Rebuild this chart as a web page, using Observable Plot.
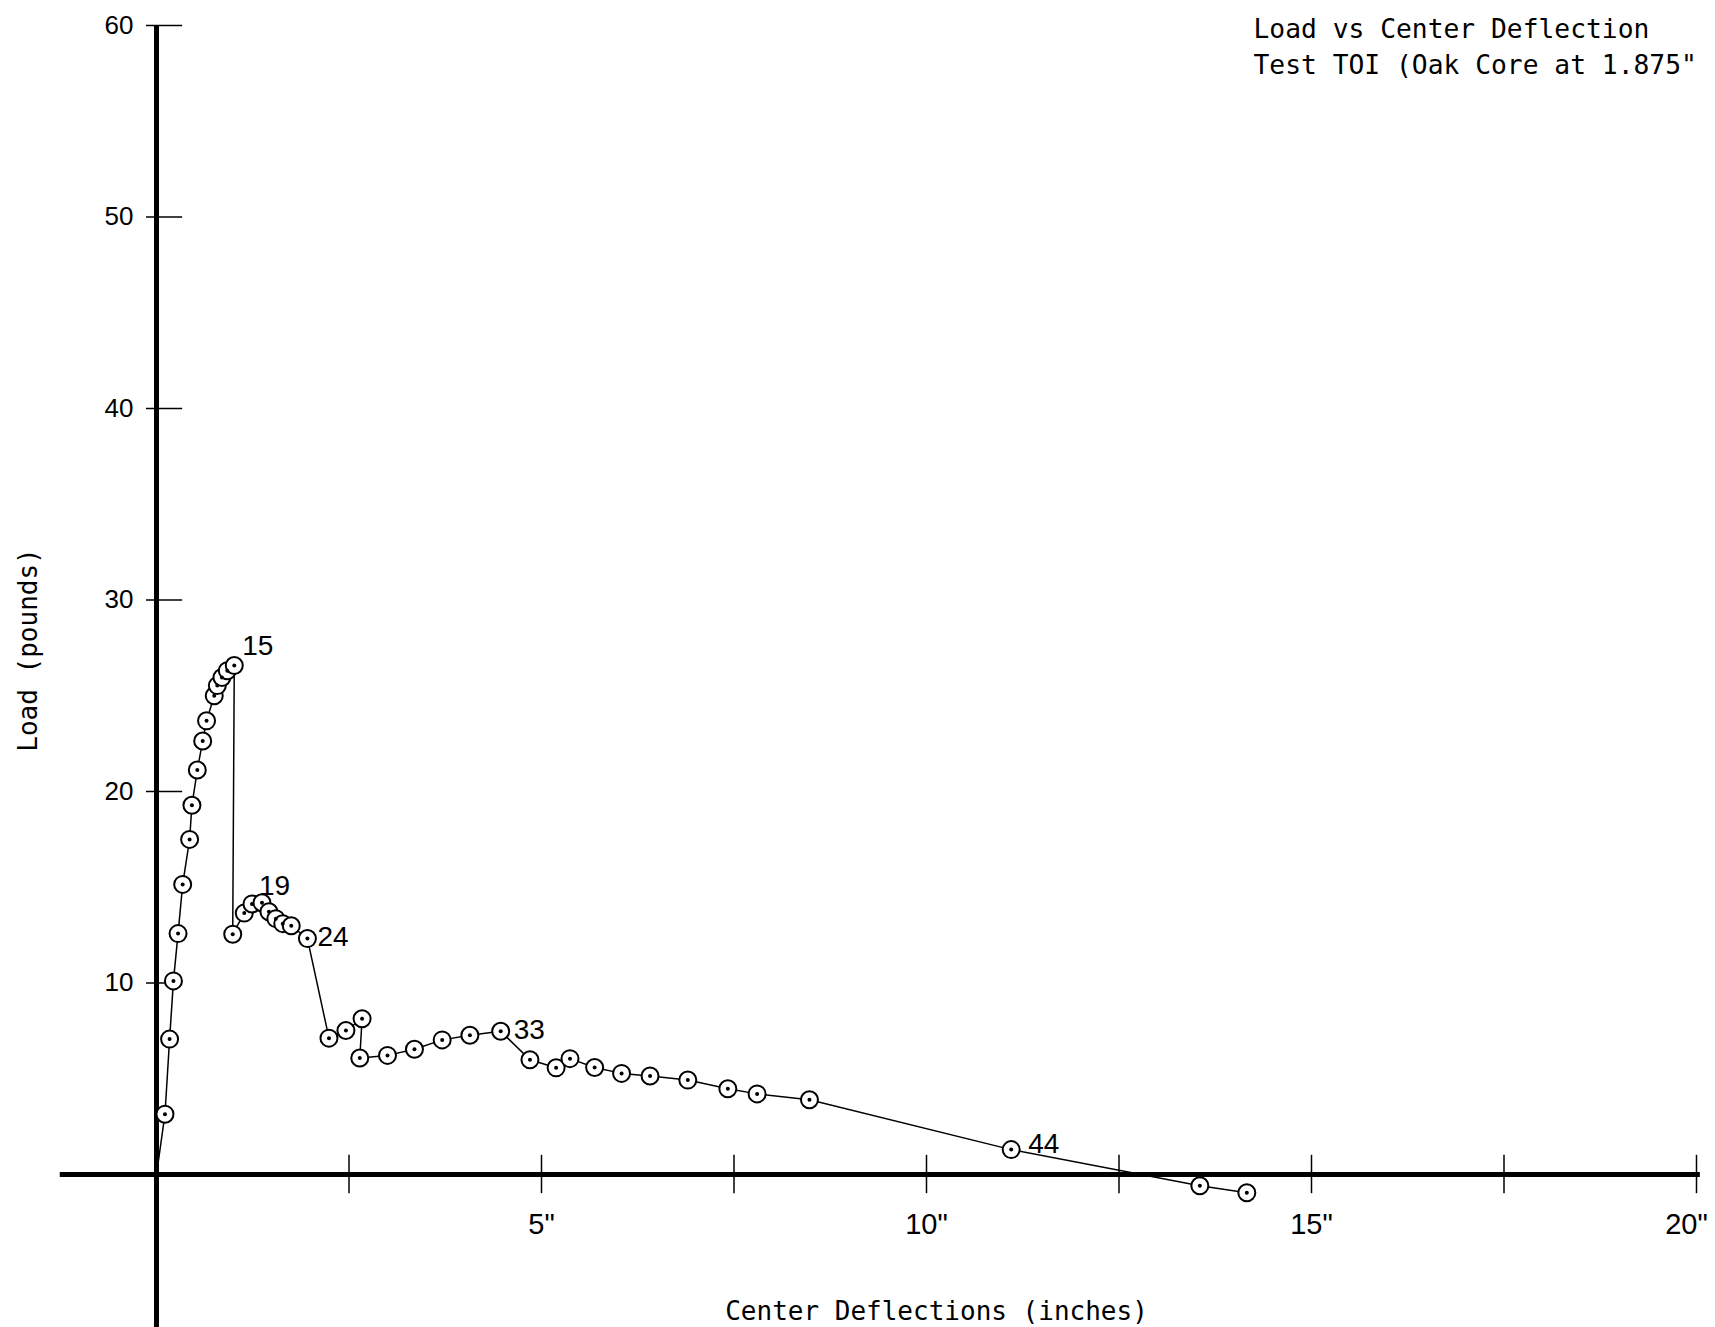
<!DOCTYPE html>
<html><head><meta charset="utf-8">
<script src="https://cdn.jsdelivr.net/npm/d3@7"></script>
<script src="https://cdn.jsdelivr.net/npm/@observablehq/plot@0.6"></script>
<style>body{margin:0;background:#fff;} #chart svg{display:block}</style>
</head><body><div id="chart"></div>
<script>
// point 0 is the origin where the curve starts; points 1..46 are the measured readings
const deflection = [0, 0.11, 0.17, 0.22, 0.28, 0.34, 0.43, 0.46, 0.53, 0.60, 0.65,
  0.75, 0.79, 0.85, 0.92, 1.01,
  0.99, 1.14, 1.24, 1.37, 1.46, 1.55, 1.64, 1.75, 1.96,
  2.24, 2.46, 2.67, 2.64, 3.00, 3.35, 3.71, 4.07, 4.47,
  4.85, 5.19, 5.37, 5.69, 6.04, 6.41, 6.90, 7.42, 7.80, 8.48, 11.10,
  13.55, 14.16];
const load = [0, 3.15, 7.07, 10.11, 12.58, 15.15, 17.5, 19.28, 21.12, 22.64, 23.69,
  25.0, 25.53, 25.95, 26.31, 26.58,
  12.55, 13.65, 14.13, 14.19, 13.72, 13.36, 13.1, 12.99, 12.32,
  7.12, 7.52, 8.13, 6.08, 6.22, 6.54, 7.03, 7.27, 7.48,
  5.99, 5.57, 6.05, 5.59, 5.28, 5.14, 4.93, 4.48, 4.21, 3.9, 1.3,
  -0.59, -0.95];
const labeledPoints = [15, 19, 24, 33, 44];
const yTicks = [10, 20, 30, 40, 50, 60];
const xTicks = [2.5, 5, 7.5, 10, 12.5, 15, 17.5, 20];
const xTickLabels = [5, 10, 15, 20];
const titleLines = ["Load vs Center Deflection", "Test TOI (Oak Core at 1.875\""];
const xAxisTitle = "Center Deflections (inches)";
const yAxisTitle = "Load (pounds)";

const pts = deflection.map((x, i) => ({i, x, y: load[i]}));
const measured = pts.filter(d => d.i > 0);
const mono = "'DejaVu Sans Mono', monospace";
const sans = "'Liberation Sans', Arial, sans-serif";
const labelOffsets = {15: [8, -19], 19: [-3, -17], 24: [10, -2], 33: [13, -1], 44: [17, -6]};
const xLabelShift = {20: -10};

const chart = Plot.plot({
  width: 1715, height: 1327,
  marginLeft: 156, marginRight: 19, marginTop: 25, marginBottom: 153,
  x: {domain: [0, 20], axis: null},
  y: {domain: [0, 60], axis: null},
  style: {background: "#fff"},
  marks: [
    Plot.ruleY([0], {x1: -1.25, x2: 20.05, stroke: "#000", strokeWidth: 5}),
    Plot.ruleX([0], {y1: -8, y2: 60, stroke: "#000", strokeWidth: 5}),
    Plot.ruleY(yTicks, {y: d => d, x1: -0.13, x2: 0.34, stroke: "#000", strokeWidth: 1.5}),
    Plot.ruleX(xTicks, {x: d => d, y1: -1, y2: 1, stroke: "#000", strokeWidth: 1.5}),
    Plot.text(yTicks, {y: d => d, text: d => String(d), frameAnchor: "left", dx: -23, textAnchor: "end", fontSize: 26, fontFamily: sans, fill: "#000"}),
    ...xTickLabels.map(v => Plot.text([v], {x: d => d, text: d => `${d}"`, frameAnchor: "bottom", dx: xLabelShift[v] || 0, dy: 59, fontSize: 29, fontFamily: sans, fill: "#000"})),
    Plot.line(pts, {x: "x", y: "y", stroke: "#000", strokeWidth: 1.5}),
    Plot.dot(measured, {x: "x", y: "y", r: 8.5, stroke: "#000", strokeWidth: 2, fill: "#fff"}),
    Plot.dot(measured, {x: "x", y: "y", r: 2, fill: "#000"}),
    ...labeledPoints.map(i => Plot.text([pts[i]], {x: "x", y: "y", text: d => String(d.i), dx: labelOffsets[i][0], dy: labelOffsets[i][1], textAnchor: "start", fontSize: 28, fontFamily: sans, fill: "#000"})),
    Plot.text([titleLines.join("\n")], {frameAnchor: "top-left", dx: 1097, dy: -13, lineAnchor: "top", lineHeight: 1.36, textAnchor: "start", fontSize: 26.3, fontFamily: mono, fill: "#000"}),
    Plot.text([yAxisTitle], {frameAnchor: "left", dx: -128, dy: 50, rotate: -90, textAnchor: "middle", fontSize: 26, fontFamily: mono, fill: "#000"}),
    Plot.text([xAxisTitle], {frameAnchor: "bottom", dx: 10, dy: 145, fontSize: 26, fontFamily: mono, fill: "#000"})
  ]
});
document.getElementById("chart").appendChild(chart);
</script>
</body></html>
